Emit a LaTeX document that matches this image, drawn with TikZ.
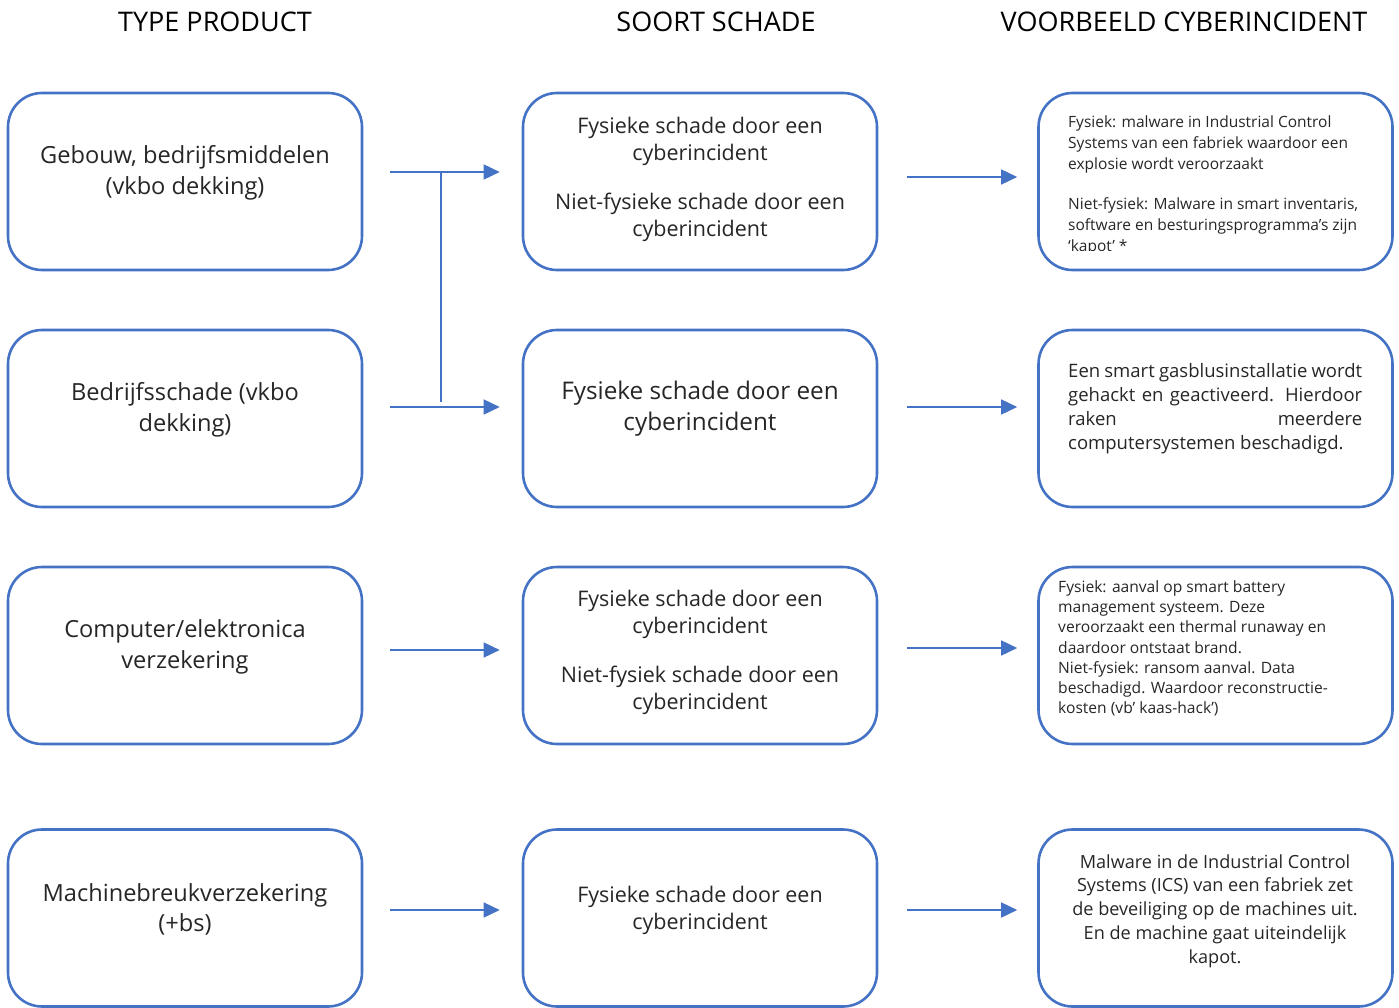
\documentclass[tikz,border=0pt]{standalone}
\usepackage{fontspec}
\setmainfont{Open Sans}
\usetikzlibrary{arrows.meta}
\definecolor{boxblue}{HTML}{4472C4}
\definecolor{txt}{HTML}{262626}
\tikzset{
  pbox/.style={draw=boxblue, line width=2.6pt, rounded corners=34pt, minimum width=354pt, minimum height=177pt, inner sep=0pt},
  conn/.style={draw=boxblue, line width=1.5pt, -{Triangle[length=16pt,width=15pt]}},
  head/.style={font=\fontsize{27}{32}\selectfont, text=black, inner sep=0pt},
  lbl/.style={text=txt, inner sep=0pt, align=center},
}
\begin{document}
\begin{tikzpicture}[x=1pt,y=-1pt]
\useasboundingbox (0,0) rectangle (1399,1008);
% headings
\node[head] (h1) at (215,22) {TYPE PRODUCT};
\node[head] (h2) at (716,22) {SOORT SCHADE};
\node[head] (h3) at (1184,22) {VOORBEELD CYBERINCIDENT};
% boxes
\foreach \c/\x in {a/185,b/700,c/1215.5}{
  \node[pbox] (\c1) at (\x,181.5) {};
  \node[pbox] (\c2) at (\x,418.5) {};
  \node[pbox] (\c3) at (\x,655.5) {};
  \node[pbox] (\c4) at (\x,918) {};
}
% column 1 texts
\node[lbl, font=\fontsize{23.6}{31}\selectfont] (ta1) at (185,172.5) {Gebouw, bedrijfsmiddelen\\(vkbo dekking)};
\node[lbl, font=\fontsize{23.6}{31}\selectfont] (ta2) at (185,409.5) {Bedrijfsschade (vkbo\\dekking)};
\node[lbl, font=\fontsize{23.6}{31}\selectfont] (ta3) at (185,646.5) {Computer/elektronica\\verzekering};
\node[lbl, font=\fontsize{23.6}{30}\selectfont] (ta4) at (185,909.5) {Machinebreukverzekering\\(+bs)};
% column 2 texts
\node[lbl, font=\fontsize{21.5}{27}\selectfont] (tb1) at (700,179.5) {Fysieke schade door een\\cyberincident\\[22pt]Niet-fysieke schade door een\\cyberincident};
\node[lbl, font=\fontsize{24.3}{31}\selectfont] (tb2) at (700,409) {Fysieke schade door een\\cyberincident};
\node[lbl, font=\fontsize{21.5}{27}\selectfont] (tb3) at (700,652.5) {Fysieke schade door een\\cyberincident\\[22pt]Niet-fysiek schade door een\\cyberincident};
\node[lbl, font=\fontsize{21.5}{27}\selectfont] (tb4) at (700,910) {Fysieke schade door een\\cyberincident};
% column 3 texts
\begin{scope}
\clip (1040,95) rectangle (1391,251);
\node[lbl, align=left, anchor=west, font=\fontsize{15.5}{21}\selectfont] (tc1) at (1068,185) {Fysiek: malware in Industrial Control\\Systems van een fabriek waardoor een\\explosie wordt veroorzaakt\\[19pt]Niet-fysiek: Malware in smart inventaris,\\software en besturingsprogramma’s zijn\\‘kapot’ *};
\end{scope}
\node[lbl, align=left, anchor=west, font=\fontsize{18.5}{24}\selectfont] (tc2) at (1068,409) {\makebox[294pt][s]{Een smart gasblusinstallatie wordt}\\\makebox[294pt][s]{gehackt en geactiveerd. Hierdoor}\\\makebox[294pt][s]{raken meerdere}\\computersystemen beschadigd.};
\node[lbl, align=left, anchor=west, font=\fontsize{15.6}{20.2}\selectfont] (tc3) at (1058,648.5) {Fysiek: aanval op smart battery\\management systeem. Deze\\veroorzaakt een thermal runaway en\\daardoor ontstaat brand.\\Niet-fysiek: ransom aanval. Data\\beschadigd. Waardoor reconstructie-\\kosten (vb’ kaas-hack’)};
\node[lbl, font=\fontsize{18.1}{23.8}\selectfont] (tc4) at (1215,911) {Malware in de Industrial Control\\Systems (ICS) van een fabriek zet\\de beveiliging op de machines uit.\\En de machine gaat uiteindelijk\\kapot.};
% connectors
\coordinate (s1) at (390,172);
\coordinate (s2) at (390,407);
\coordinate (s3) at (390,650);
\coordinate (s4) at (390,910);
\coordinate (jt) at (441,172);
\coordinate (jb) at (441,402);
\draw[conn] (s1) -- ([xshift=-22pt]s1 -| b1.west);
\draw[conn] (s2) -- ([xshift=-22pt]s2 -| b2.west);
\draw[conn] (s3) -- ([xshift=-22pt]s3 -| b3.west);
\draw[conn] (s4) -- ([xshift=-22pt]s4 -| b4.west);
\draw[draw=boxblue, line width=1.5pt] (jt) -- (jb);
\coordinate (r1) at (907,177);
\coordinate (r2) at (907,407);
\coordinate (r3) at (907,648);
\coordinate (r4) at (907,910);
\draw[conn] (r1) -- ([xshift=-20pt]r1 -| c1.west);
\draw[conn] (r2) -- ([xshift=-20pt]r2 -| c2.west);
\draw[conn] (r3) -- ([xshift=-20pt]r3 -| c3.west);
\draw[conn] (r4) -- ([xshift=-20pt]r4 -| c4.west);
\end{tikzpicture}
\end{document}
